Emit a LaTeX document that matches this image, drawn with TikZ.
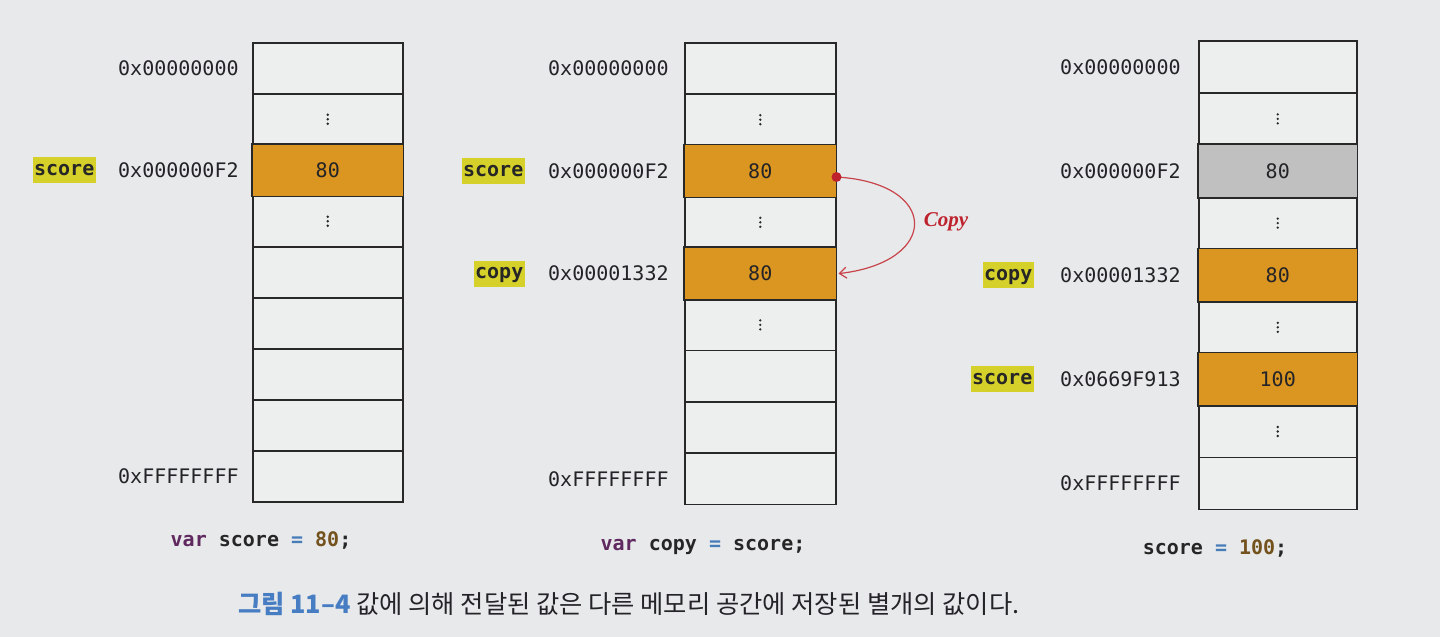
\documentclass[tikz,border=0pt]{standalone}
\usepackage{fontspec}
\setmonofont{DejaVu Sans Mono}
\newfontfamily\krfont{Noto Sans CJK KR}
\newfontfamily\copyfont{Liberation Serif}
\usetikzlibrary{arrows.meta}
\definecolor{bgc}{RGB}{232,233,234}
\definecolor{cellc}{RGB}{237,238,238}
\definecolor{linec}{RGB}{40,40,40}
\definecolor{orangec}{RGB}{218,150,32}
\definecolor{grayc}{RGB}{192,192,193}
\definecolor{hlc}{RGB}{214,208,42}
\definecolor{redc}{RGB}{190,35,45}
\definecolor{varc}{RGB}{95,40,95}
\definecolor{eqc}{RGB}{70,125,185}
\definecolor{numc}{RGB}{115,82,30}
\definecolor{capblue}{RGB}{70,125,195}
\definecolor{captext}{RGB}{35,35,40}
\tikzset{
  cell/.style={draw=linec, line width=1.5pt, fill=cellc, rectangle, inner sep=0pt, anchor=north west},
  filledcell/.style={draw=linec, line width=1.5pt},
  addr/.style={anchor=west, inner sep=0pt, font=\ttfamily\fontsize{20}{24}\selectfont, text=captext},
  val/.style={inner sep=0pt, font=\ttfamily\fontsize{20}{24}\selectfont, text=captext},
  varlabel/.style={anchor=east, fill=hlc, inner xsep=1.5pt, inner ysep=4pt, text height=14pt, text depth=4pt, font=\ttfamily\bfseries\fontsize{20}{24}\selectfont, text=black!85},
  code/.style={inner sep=0pt, font=\ttfamily\bfseries\fontsize{20}{24}\selectfont, text=black!85},
  dotc/.style={fill=linec},
  copyarrow/.style={draw=redc!85!white, line width=1.2pt, -{Straight Barb[length=7pt,width=11pt,line width=1.2pt]}},
}
\begin{document}
\begin{tikzpicture}[x=1pt,y=-1pt]
\fill[bgc] (0,0) rectangle (1440,637);
\useasboundingbox (0,0) rectangle (1440,637);

% memory columns
\foreach \cc/\xl/\w/\top/\h in {1/252/150/42/51, 2/684/151/42/51.3, 3/1198/158/40/52.1} {
  \foreach \rr in {1,...,9} {
    \node[cell, minimum width=\w pt, minimum height=\h pt] (c\cc r\rr) at (\xl, {\top+(\rr-1)*\h}) {};
  }
}

% filled cells
\draw[filledcell, fill=orangec] (c1r3.north west) rectangle (c1r3.south east);
\draw[filledcell, fill=orangec] (c2r3.north west) rectangle (c2r3.south east);
\draw[filledcell, fill=orangec] (c2r5.north west) rectangle (c2r5.south east);
\draw[filledcell, fill=grayc] (c3r3.north west) rectangle (c3r3.south east);
\draw[filledcell, fill=orangec] (c3r5.north west) rectangle (c3r5.south east);
\draw[filledcell, fill=orangec] (c3r7.north west) rectangle (c3r7.south east);

% values
\node[val] (v13) at (c1r3) {80};
\node[val] (v23) at (c2r3) {80};
\node[val] (v25) at (c2r5) {80};
\node[val] (v33) at (c3r3) {80};
\node[val] (v35) at (c3r5) {80};
\node[val] (v37) at (c3r7) {100};

% vertical dots
\foreach \d in {c1r2,c1r4,c2r2,c2r4,c2r6,c3r2,c3r4,c3r6,c3r8} {
  \fill[dotc] ([yshift=4.5pt]\d.center) circle (1.3);
  \fill[dotc] (\d.center) circle (1.3);
  \fill[dotc] ([yshift=-4.5pt]\d.center) circle (1.3);
}

% addresses column 1
\node[addr] (a11) at (118, 0 |- c1r1.center) {0x00000000};
\node[addr] (a13) at (118, 0 |- c1r3.center) {0x000000F2};
\node[addr] (a19) at (118, 0 |- c1r9.center) {0xFFFFFFFF};
% addresses column 2
\node[addr] (a21) at (548, 0 |- c2r1.center) {0x00000000};
\node[addr] (a23) at (548, 0 |- c2r3.center) {0x000000F2};
\node[addr] (a25) at (548, 0 |- c2r5.center) {0x00001332};
\node[addr] (a29) at (548, 0 |- c2r9.center) {0xFFFFFFFF};
% addresses column 3
\node[addr] (a31) at (1060, 0 |- c3r1.center) {0x00000000};
\node[addr] (a33) at (1060, 0 |- c3r3.center) {0x000000F2};
\node[addr] (a35) at (1060, 0 |- c3r5.center) {0x00001332};
\node[addr] (a37) at (1060, 0 |- c3r7.center) {0x0669F913};
\node[addr] (a39) at (1060, 0 |- c3r9.center) {0xFFFFFFFF};

% variable labels
\node[varlabel] (l13) at (96, 0 |- c1r3.center) {score};
\node[varlabel] (l23) at (525, 0 |- c2r3.center) {score};
\node[varlabel] (l25) at (525, 0 |- c2r5.center) {copy};
\node[varlabel] (l35) at (1034, 0 |- c3r5.center) {copy};
\node[varlabel] (l37) at (1034, 0 |- c3r7.center) {score};

% copy arrow
\coordinate (cstart) at ([yshift=-6pt]c2r3.east);
\coordinate (cend) at ([xshift=2pt]c2r5.east);
\draw[copyarrow] (cstart) .. controls (940,183) and (940,262) .. (cend);
\fill[redc] (cstart) circle (5);
\node[inner sep=0pt, text=redc, font=\copyfont\bfseries\itshape\fontsize{21}{24}\selectfont] (copylbl) at (946,222) {Copy};

% code lines
\node[code] (code1) at (261,540) {\textcolor{varc}{var} score \textcolor{eqc}{=} \textcolor{numc}{80};};
\node[code] (code2) at (703,547) {\textcolor{varc}{var} copy \textcolor{eqc}{=} score;};
\node[code] (code3) at (1215,548) {score \textcolor{eqc}{=} \textcolor{numc}{100};};

% caption
\node[anchor=base west, inner sep=0pt, text=captext, font=\krfont\fontsize{25.3}{29}\selectfont] (caption) at (238,613)
  {\textcolor{capblue}{\bfseries 그림 11–4} 값에 의해 전달된 값은 다른 메모리 공간에 저장된 별개의 값이다.};
\end{tikzpicture}
\end{document}
